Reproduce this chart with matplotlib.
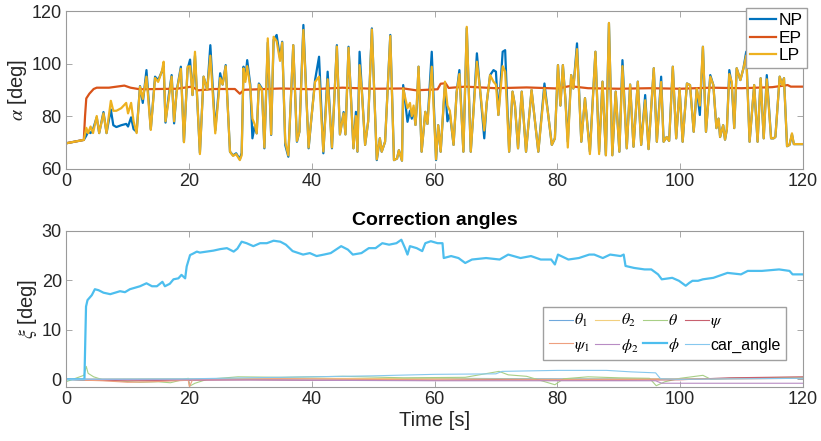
import matplotlib
matplotlib.use('Agg')
import matplotlib.pyplot as plt

plt.rcParams['font.family'] = ['Liberation Sans', 'DejaVu Sans']
plt.rcParams['mathtext.fontset'] = 'stix'

# --- oberer Plot: alpha fuer NP / EP / LP ---
t_alpha = [0, 2.9, 3.3, 3.6, 4.0, 4.4, 5.0, 5.4, 6.1, 6.6, 7.3, 7.7, 8.2, 9.0, 9.8, 10.1, 10.6, 11.0, 11.5,
           12.05, 12.5, 13.1, 13.8, 14.5, 15.0, 15.6, 15.9, 16.2, 16.7, 17.2, 17.6, 18.0, 18.7, 19.2, 19.8,
           20.2, 20.6, 21.0, 21.8, 22.4, 23.0, 23.5, 24.3, 25.1, 25.5, 26.0, 26.7, 27.2, 27.7, 28.3, 28.6,
           28.9, 29.2, 29.5, 30.0, 30.35, 30.7, 31.05, 31.4, 31.9, 32.3, 32.85, 33.4, 33.8, 34.3, 34.85,
           35.2, 35.7, 36.2, 37.0, 37.6, 38.0, 38.65, 39.5, 39.9, 40.55, 41.2, 41.9, 42.6, 43.3, 44.1, 44.6,
           45.2, 45.5, 46.0, 46.8, 47.2, 47.45, 47.8, 48.15, 48.7, 49.2, 49.8, 50.6, 51.1, 51.4, 51.95, 52.8,
           53.4, 53.9, 54.2, 54.7, 54.9, 55.6, 56.0, 56.3, 56.6, 56.9, 57.1, 57.4, 57.9, 58.5, 58.85, 59.55,
           60.25, 60.6, 61.0, 61.7, 62.1, 62.5, 63.1, 63.6, 64.05, 64.7, 65.25, 65.9, 66.3, 66.9, 67.4, 68.1,
           68.5, 69.05, 69.6, 70.0, 70.4, 71.1, 71.5, 72.15, 72.7, 73.1, 73.6, 74.2, 74.9, 75.8, 76.9, 77.9,
           78.45, 79.1, 79.6, 80.1, 80.5, 80.9, 81.3, 81.7, 82.25, 82.6, 83.2, 83.9, 84.5, 85.3, 86.2, 86.8,
           87.35, 87.9, 88.4, 88.95, 89.5, 90.1, 90.6, 91.3, 91.85, 92.4, 93.1, 93.65, 94.3, 94.85, 95.7,
           96.2, 96.9, 97.3, 97.8, 98.2, 98.8, 99.35, 99.9, 100.4, 101.1, 101.6, 102.2, 102.7, 103.2, 103.7,
           104.2, 104.9, 105.4, 105.9, 106.25, 106.5, 107.0, 107.3, 107.6, 108.0, 108.4, 108.8, 109.2, 109.8,
           110.3, 110.75, 111.3, 112.05, 112.6, 113.1, 113.6, 114.1, 114.8, 115.2, 115.5, 116.2, 116.6,
           116.9, 117.4, 117.8, 118.2, 118.5, 120]

alpha_np = [69.6, 70.9, 72.5, 74, 73.5, 75, 79.5, 73.5, 81.5, 73.5, 82.5, 76.5, 75.8, 76.5, 77, 76, 79.5, 75, 74,
            91.4, 85, 97.5, 75, 95, 93.7, 96.9, 99, 77.5, 87.4, 95.6, 77.2, 89.3, 98.8, 70.2, 98,
            101.5, 88, 103, 66, 95, 90, 107, 74.5, 96.3, 92, 99.4, 66.4, 65, 65.8, 63.5, 66,
            98.8, 94, 101.3, 92, 71.5, 76, 73.4, 92.4, 90.5, 67.7, 108, 72.8, 109, 110.9, 102,
            108.3, 68.9, 64.5, 107, 70.2, 74, 114.7, 67.7, 77.8, 93.7, 102.6, 65.8, 96.9, 67.7, 107, 73,
            81.5, 73, 106.4, 67.7, 81.6, 66.4, 104.5, 90.5, 69, 78, 113.4, 63.2, 71.5, 66.4, 70.2, 110.9,
            63.2, 63.8, 67, 63, 91.8, 77.8, 82, 79, 83, 76.6, 83, 98.8, 66.4, 81.6, 77, 104.5,
            63.2, 76.5, 66.4, 92, 78, 81, 69, 89, 97.5, 66.4, 113.5, 66.4, 80.4, 103.9, 90.5, 71.5,
            85, 95.6, 97.5, 96.9, 80.4, 104.5, 105.1, 66.4, 89.3, 84, 67.7, 89.3, 66.4, 89.9, 66.4, 92.4,
            81.6, 69, 71.5, 99.4, 84, 99.4, 86.8, 70.2, 95.6, 90.5, 107.7, 70.2, 86.8, 66.4, 104.5, 66.4,
            93.1, 65.1, 115.3, 65.1, 89.3, 66.4, 101.3, 67.7, 92, 68.3, 93.1, 69, 88, 67.4, 98.2,
            70.2, 95, 70.2, 72, 70.5, 98.8, 71.5, 90.5, 70.2, 92.4, 91.8, 74, 90.5, 80.4, 106.4,
            74, 95.6, 91.8, 75.4, 79, 72, 76.5, 71, 75, 97.5, 91.8, 75.4, 98.2, 93.7,
            98.2, 104.5, 70.2, 91.8, 70.2, 94.4, 71.5, 95.6, 71.5, 71.5, 72, 95, 91.8,
            94.4, 68.5, 69, 73, 69.3, 69.3]

alpha_lp = [69.6, 70.9, 75.5, 73.5, 76, 73.5, 80, 73.5, 81, 73.5, 85.8, 82, 82, 83, 85, 81, 85, 78, 73.5,
            91.2, 86.5, 95, 74.7, 94.5, 93, 97, 100.7, 78, 86, 95, 78, 89, 98, 70, 98.8,
            99, 88, 104.5, 65.5, 95, 90, 103, 73.4, 94.5, 92, 99, 66.4, 64.8, 65.5, 63.2, 65,
            98.2, 93, 99, 91, 79, 77, 73.4, 92, 90, 68, 109.6, 73, 110.2, 108.5, 101,
            108, 70, 65, 107, 70.5, 74, 112.8, 68, 78, 93, 95, 66.5, 94, 68, 106.5, 73,
            81, 73, 106, 67.7, 80, 66.5, 99.4, 90, 69, 78, 113, 63.5, 71.5, 66.4, 70.2, 110.5,
            63.2, 63.8, 67, 63, 90.5, 83, 85, 80, 84, 76.6, 84, 98.8, 66.4, 81.6, 77, 98.8,
            63.5, 76.5, 66.4, 93.1, 84, 82, 69, 89, 96, 66.4, 114, 66.4, 80, 100.7, 90.5, 74.5,
            85, 95.6, 93.1, 92, 80.4, 99, 96.9, 66.4, 89.3, 84, 67.7, 89.3, 66.4, 89.9, 66.4, 90.5,
            81.6, 69, 71.5, 99.4, 84, 99.4, 86.8, 68, 95.6, 90.5, 105.5, 70.2, 86.8, 65.5, 104.5, 65.5,
            93.1, 65, 115.5, 65, 89.3, 66.4, 99, 67.7, 92, 68.3, 93.1, 69, 86, 67.4, 98.2,
            70.2, 93, 70.2, 72, 70.5, 98.8, 71.5, 90.5, 70.2, 92.4, 91.8, 74, 90.5, 84, 106.4,
            74, 95, 91.8, 75.4, 79, 72, 76.5, 71, 75, 96, 93, 75.4, 98.2, 93.7,
            98.2, 103, 70.2, 91.8, 70.2, 94.4, 71.5, 94, 71.5, 71.5, 72, 95, 91.8,
            94.4, 68.5, 69, 73.4, 69.3, 69.3]

t_ep = [0, 2.9, 3.1, 3.3, 3.8, 4.5, 5, 7, 9.5, 10.5, 12, 18, 20.5, 21.5, 24, 27.5, 28.3, 29, 35, 40, 45, 50,
        55, 57, 60.5, 61, 61.8, 62.3, 65, 70, 75, 80, 82, 85, 90, 95, 100, 105, 110, 115, 117.5, 118, 120]
alpha_ep = [69.6, 70.9, 80, 86.7, 88.5, 90.3, 90.8, 90.8, 91.6, 90.8, 90.2, 90.4, 91.2, 89.8, 90.3, 90.3,
            88.5, 90.0, 90.5, 90.2, 90.8, 90.4, 90.5, 89.8, 90.2, 92.3, 92.5, 90.7, 91.2, 90.6, 90.9, 90.5,
            91.4, 90.6, 90.4, 90.6, 90.4, 90.8, 90.6, 91.0, 91.8, 91.2, 91.2]

# --- unterer Plot: Korrekturwinkel ---
t_phi = [0, 3.0, 3.26, 3.5, 4.2, 4.7, 5.3, 6.1, 7.2, 8.0, 8.8, 9.6, 10.4, 12.05, 13.1, 14.0, 14.8, 15.7,
         16.1, 16.9, 17.5, 18.3, 18.8, 19.4, 19.65, 20.2, 20.7, 21.3, 21.8, 22.9, 24.0, 25.1, 26.2, 27.3,
         27.9, 28.6, 29.4, 30.5, 31.6, 32.7, 33.8, 34.9, 35.8, 36.9, 38.6, 39.7, 40.8, 42.0, 43.1, 44.8,
         45.9, 46.7, 48.1, 49.3, 50.4, 51.5, 52.6, 53.8, 54.6, 55.2, 55.6, 56.0, 57.1, 58.0, 58.5, 59.4,
         60.5, 61.3, 61.5, 62.7, 63.9, 65.0, 66.1, 68.4, 70.6, 72.0, 74.0, 75.7, 77.3, 79.0, 79.6, 80.1,
         81.8, 83.5, 85.2, 86.0, 87.4, 88.6, 90.3, 90.8, 91.1, 92.5, 94.2, 95.3, 96.4, 97.0, 98.7, 99.8,
         100.9, 101.5, 102.0, 102.9, 103.7, 105.4, 107.7, 109.9, 111.0, 113.3, 116.1, 117.8, 118.3, 120]
xi_phi = [0, 0, 14.7, 16.0, 17.0, 18.2, 18.0, 17.5, 17.2, 17.5, 17.8, 17.6, 18.2, 18.8, 19.4, 18.8, 18.8, 19.7,
          18.8, 19.3, 20.2, 20.4, 21.1, 20.4, 22.8, 25.1, 25.4, 25.8, 25.6, 25.8, 26.0, 26.3, 26.5, 25.8,
          26.4, 27.8, 27.5, 26.9, 27.5, 27.5, 28.0, 27.8, 27.2, 25.9, 25.2, 25.5, 24.9, 25.2, 25.5, 26.9,
          26.2, 25.2, 25.5, 26.5, 26.5, 27.5, 27.2, 27.5, 28.2, 26.5, 25.2, 26.9, 26.5, 25.9, 27.5, 27.9,
          27.5, 27.5, 24.5, 24.9, 24.5, 23.5, 24.2, 24.5, 24.2, 25.2, 24.5, 24.9, 24.2, 24.2, 23.2, 25.2,
          24.2, 24.5, 25.2, 25.2, 24.5, 25.2, 24.9, 25.2, 22.9, 22.5, 22.2, 22.2, 21.2, 20.2, 20.5, 19.9,
          18.9, 19.5, 19.9, 19.9, 20.2, 20.5, 21.5, 21.2, 21.9, 21.9, 22.2, 21.9, 21.2, 21.2]

t_theta1 = [0, 20, 40, 60, 80, 100, 120]
xi_theta1 = [0, 0.05, 0.1, 0.2, 0.1, 0.1, 0.3]

t_theta2 = [0, 20, 40, 60, 80, 100, 120]
xi_theta2 = [0, 0.1, 0.2, 0.1, 0.0, 0.1, 0.2]

t_theta = [0, 2.9, 3.3, 3.6, 4.5, 6, 9, 12, 15, 17, 19.9, 20.1, 21, 23, 28, 35, 45, 55, 65, 70.5, 72, 75,
           79.6, 81, 85, 90, 95, 96.1, 97.5, 100, 103.7, 105, 110, 120]
xi_theta = [-0.5, 0.8, 2.6, 1.2, 0.5, -0.1, -0.4, -0.6, -0.5, -0.7, 0.2, -1.4, -0.8, 0, 0.5, 0.4, 0.6, 0.3,
            0.4, 1.6, 0.9, 0.6, -1.1, 0.1, 0.5, 0.3, 0.2, -1.3, -0.5, 0.2, 0.8, 0.0, 0.3, 0.4]

t_psi = [0, 3.3, 10, 20, 30, 40, 50, 60, 70, 80, 90, 100, 108, 120]
xi_psi = [0, -0.2, -0.3, -0.2, -0.1, -0.2, -0.1, -0.2, -0.1, -0.2, -0.2, -0.1, 0.3, 0.5]

t_psi1 = [0, 3.3, 6, 10, 14, 18, 19.9, 20.1, 20.6, 25, 35, 50, 65, 80, 95, 110, 120]
xi_psi1 = [0, -0.2, -0.3, -0.6, -0.5, -0.3, -0.2, -1.5, -0.1, 0, 0.1, 0, -0.2, -0.1, 0, 0.1, 0.2]

t_phi2 = [0, 20, 40, 60, 80, 96, 97, 120]
xi_phi2 = [0, -0.1, -0.2, -0.3, -0.3, -0.3, -0.8, -0.8]

t_car = [0, 20, 30, 40, 50, 60, 70, 71, 80, 88, 92, 96, 96.8, 100, 120]
xi_car = [0, 0.1, 0.3, 0.5, 0.7, 1.0, 1.1, 1.6, 1.8, 1.8, 1.5, 1.3, 0.1, 0, 0.2]

fig = plt.figure(figsize=(8.21, 4.41), dpi=100)
ax1 = fig.add_axes([0.0804, 0.6179, 0.8977, 0.357])
ax2 = fig.add_axes([0.0804, 0.1231, 0.8977, 0.3535])

ax1.plot(t_alpha, alpha_np, color='#0072BD', lw=1.6, label='NP')
ax1.plot(t_ep, alpha_ep, color='#D95319', lw=1.6, label='EP')
ax1.plot(t_alpha, alpha_lp, color='#EDB120', lw=1.6, label='LP')
ax1.set_xlim(0, 120)
ax1.set_ylim(60, 120)
ax1.set_yticks([60, 80, 100, 120])
ax1.set_ylabel(r'$\alpha$ [deg]', fontsize=14.5, color='#262626', labelpad=2)
ax1.legend(loc='upper right', bbox_to_anchor=(1.006, 1.017), fontsize=12.5, handlelength=1.5,
           handletextpad=0.15, borderpad=0.25, labelspacing=0.15, fancybox=False, framealpha=1,
           edgecolor='#a0a0a0', borderaxespad=0)

h_t1, = ax2.plot(t_theta1, xi_theta1, color='#6fa8dc', lw=0.8)
h_t2, = ax2.plot(t_theta2, xi_theta2, color='#f2cf7e', lw=0.8)
h_t, = ax2.plot(t_theta, xi_theta, color='#a8cf86', lw=0.8)
h_p, = ax2.plot(t_psi, xi_psi, color='#c8606e', lw=0.8)
h_p1, = ax2.plot(t_psi1, xi_psi1, color='#eea07f', lw=0.8)
h_f2, = ax2.plot(t_phi2, xi_phi2, color='#b88cc4', lw=0.8)
h_f, = ax2.plot(t_phi, xi_phi, color='#4DBEEE', lw=1.6)
h_c, = ax2.plot(t_car, xi_car, color='#86c8ee', lw=0.8)
ax2.set_xlim(0, 120)
ax2.set_ylim(-1.5, 30)
ax2.set_yticks([0, 10, 20, 30])
ax2.set_ylabel(r'$\xi$ [deg]', fontsize=14.5, color='#262626', labelpad=2)
ax2.set_xlabel('Time [s]', fontsize=14.5, color='#262626', labelpad=2)
ax2.set_title('Correction angles', fontsize=14, fontweight='bold', pad=4)

# matplotlib fuellt spaltenweise, deshalb umsortiert
handles = [h_t1, h_p1, h_t2, h_f2, h_t, h_f, h_p, h_c]
labels = [r'$\theta_1$', r'$\psi_1$', r'$\theta_2$', r'$\phi_2$', r'$\theta$', r'$\phi$', r'$\psi$', 'car_angle']
ax2.legend(handles, labels, ncol=4, loc='upper right', bbox_to_anchor=(0.977, 0.513), fontsize=11.5,
           handlelength=1.5, handletextpad=0.1, columnspacing=0.3, borderpad=0.35, labelspacing=0.45,
           fancybox=False, framealpha=1, edgecolor='#a0a0a0', borderaxespad=0)

for ax in (ax1, ax2):
    ax.set_xticks([0, 20, 40, 60, 80, 100, 120])
    ax.tick_params(direction='in', top=True, right=True, length=4, width=0.6, pad=3,
                   labelsize=13, colors='#9a9a9a', labelcolor='#262626')
    for s in ax.spines.values():
        s.set_color('#9a9a9a')
        s.set_linewidth(0.8)

fig.savefig('out.png', dpi=100)
